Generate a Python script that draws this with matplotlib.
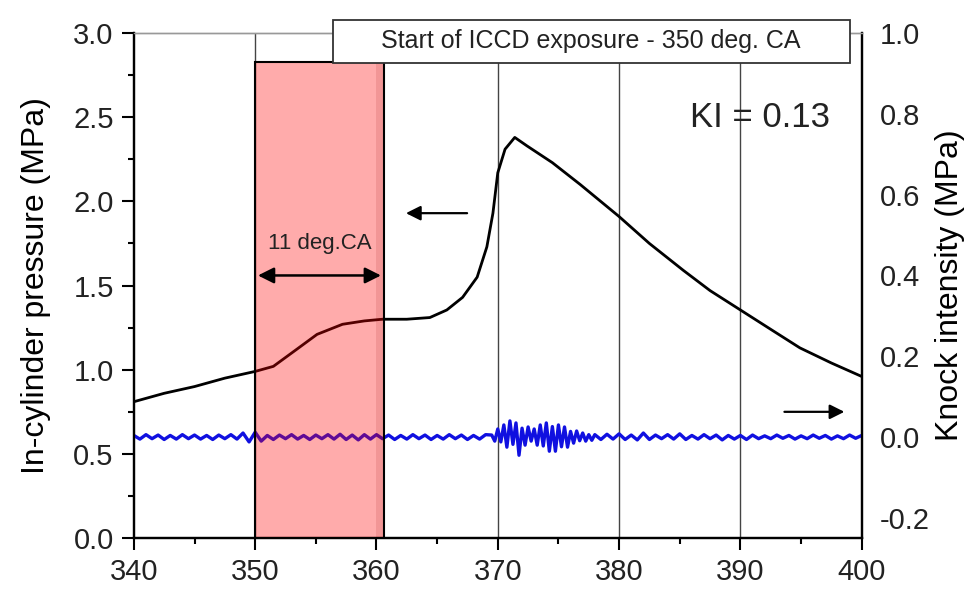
import numpy as np
import matplotlib.pyplot as plt
from matplotlib.patches import Rectangle
from matplotlib.ticker import MultipleLocator

plt.rcParams['font.family'] = ['Liberation Sans', 'DejaVu Sans']
plt.rcParams['text.color'] = '#222222'
plt.rcParams['xtick.color'] = '#222222'
plt.rcParams['ytick.color'] = '#222222'

# crank angle (deg) and in-cylinder pressure (MPa)
ca = [340, 342.5, 345, 347.5, 350, 351.5, 353.4, 355.1, 357.2, 359, 360.5,
      362.5, 364.4, 365.8, 367.1, 368.3, 369.1, 369.6, 370.0, 370.6, 371.4,
      372.4, 374.5, 376.8, 380, 382.5, 385.3, 387.5, 390, 392.5, 394.9, 397.5, 400]
pressure = [0.81, 0.86, 0.90, 0.95, 0.99, 1.02, 1.12, 1.21, 1.27, 1.29, 1.30,
            1.30, 1.31, 1.355, 1.43, 1.55, 1.73, 1.93, 2.17, 2.31, 2.38,
            2.33, 2.23, 2.10, 1.91, 1.75, 1.59, 1.47, 1.355, 1.24, 1.13, 1.04, 0.96]

# knock signal (MPa): 0.5 deg steps before and after, 0.25 deg in the knock burst
knock_pre = [0.004, -0.005, 0.006, -0.004, 0.005, -0.006, 0.004, -0.005, 0.006, -0.004,
             0.005, -0.005, 0.004, -0.006, 0.005, -0.004, 0.006, -0.005, 0.010, -0.012,
             0.012, -0.010, 0.004, -0.006, 0.005, -0.004, 0.006, -0.005, 0.004, -0.006,
             0.005, -0.004, 0.006, -0.005, 0.007, -0.006, 0.005, -0.007, 0.006, -0.005,
             0.006, -0.004, 0.005, -0.006, 0.004, -0.005, 0.006, -0.004, 0.005, -0.006,
             0.004, -0.005, 0.006, -0.004, 0.005, -0.006, 0.004, -0.005, 0.006]
knock_burst = [0.005, -0.010, 0.020, -0.012, 0.030, -0.025, 0.040, -0.018, 0.035,
               -0.045, 0.022, -0.020, 0.025, -0.010, 0.020, -0.020, 0.030, -0.022,
               0.035, -0.035, 0.026, -0.035, 0.030, -0.024, 0.025, -0.025, 0.014,
               -0.015, 0.015, -0.009, 0.010, -0.010, 0.006, -0.008, 0.006]
knock_post = [-0.006, 0.007, -0.005, 0.008, -0.006, 0.005, -0.007, 0.010, -0.006, 0.005,
              -0.004, 0.006, -0.005, 0.008, -0.006, 0.004, -0.005, 0.006, -0.004, 0.005,
              -0.007, 0.004, -0.005, 0.004, -0.006, 0.005, -0.004, 0.003, -0.004, 0.005,
              -0.003, 0.004, -0.005, 0.003, -0.004, 0.005, -0.003, 0.004, -0.005, 0.003,
              -0.004, 0.005, -0.003, 0.004]
knock_ca = list(np.arange(340, 369.5, 0.5)) + list(np.arange(369.5, 378.01, 0.25)) \
    + list(np.arange(378.5, 400.01, 0.5))
knock = knock_pre + knock_burst + knock_post

x_ticks = [340, 350, 360, 370, 380, 390, 400]
grid_ca = [350, 370, 380, 390]

fig = plt.figure(figsize=(9.77, 5.90), dpi=100)
ax = fig.add_axes([0.137, 0.088, 0.745, 0.856])
ax2 = ax.twinx()

ax.set_xlim(340, 400)
ax.set_ylim(0, 3.0)
ax2.set_ylim(-0.25, 1.0)

for g in grid_ca:
    ax.axvline(g, color='#444444', lw=1.0, zorder=1)

ax.plot(ca, pressure, color='black', lw=2.0, zorder=2)
ax2.plot(knock_ca, knock, color='#1010e0', lw=2.4, zorder=2)

# ICCD exposure window (drawn over the traces)
ax2.set_zorder(ax.get_zorder() + 1)
ax2.patch.set_visible(False)
ax2.add_patch(Rectangle((350, -0.25), 10.6, 1.178, transform=ax2.transData,
                        facecolor='red', alpha=0.33, edgecolor='none', zorder=3))
ax2.add_patch(Rectangle((360, -0.25), 0.6, 1.178, transform=ax2.transData,
                        facecolor='#990000', alpha=0.12, edgecolor='none', zorder=3))
ax2.add_patch(Rectangle((350, -0.25), 10.6, 1.178, transform=ax2.transData,
                        facecolor='none', edgecolor='black', lw=1.5, zorder=4))

# annotations (left axis data units)
ax2.annotate('', xy=(350, 1.56), xytext=(360.6, 1.56), xycoords=ax.transData,
             textcoords=ax.transData,
             arrowprops=dict(arrowstyle='<|-|>', color='black', lw=1.8,
                             mutation_scale=24), zorder=5)
ax2.text(355.3, 1.75, '11 deg.CA', transform=ax.transData, ha='center',
         va='center', fontsize=16, zorder=5)
ax2.annotate('', xy=(362.2, 1.93), xytext=(367.7, 1.93), xycoords=ax.transData,
             textcoords=ax.transData,
             arrowprops=dict(arrowstyle='-|>', color='black', lw=1.6,
                             mutation_scale=22), zorder=5)
ax2.annotate('', xy=(398.8, 0.75), xytext=(393.4, 0.75), xycoords=ax.transData,
             textcoords=ax.transData,
             arrowprops=dict(arrowstyle='-|>', color='black', lw=1.6,
                             mutation_scale=22), zorder=5)
ax2.text(391.6, 2.50, 'KI = 0.13', transform=ax.transData, ha='center',
         va='center', fontsize=25, zorder=5)

ax2.add_patch(Rectangle((356.4, 2.82), 42.6, 0.26, transform=ax.transData,
                        facecolor='white', edgecolor='#333333', lw=1.3,
                        clip_on=False, zorder=6))
ax2.text(377.7, 2.95, 'Start of ICCD exposure - 350 deg. CA', transform=ax.transData,
         ha='center', va='center', fontsize=18, zorder=7, clip_on=False)

# axes styling
ax.set_xticks(x_ticks)
ax.xaxis.set_minor_locator(MultipleLocator(5))
ax.yaxis.set_major_locator(MultipleLocator(0.5))
ax.yaxis.set_minor_locator(MultipleLocator(0.25))
ax.yaxis.set_major_formatter(plt.FormatStrFormatter('%.1f'))
ax.tick_params(axis='both', which='major', direction='out', length=8.5, width=1.5,
               labelsize=21, color='black')
ax.tick_params(axis='both', which='minor', direction='out', length=4.5, width=1.5,
               color='black')
ax.tick_params(axis='y', pad=6)
ax.tick_params(axis='x', pad=6)

ax2.set_yticks([-0.2, 0.0, 0.2, 0.4, 0.6, 0.8, 1.0])
ax2.yaxis.set_major_formatter(plt.FormatStrFormatter('%.1f'))
ax2.tick_params(axis='y', length=0, pad=13, labelsize=21)

for a in (ax, ax2):
    a.spines['left'].set_linewidth(1.6)
    a.spines['bottom'].set_linewidth(1.6)
    a.spines['right'].set_linewidth(1.6)
    a.spines['top'].set_color('#999999')
    a.spines['top'].set_linewidth(1.0)

ax.set_ylabel('In-cylinder pressure (MPa)', fontsize=23, labelpad=16)
ax2.set_ylabel('Knock intensity (MPa)', fontsize=23, labelpad=4)

plt.savefig('out.png', dpi=100)
